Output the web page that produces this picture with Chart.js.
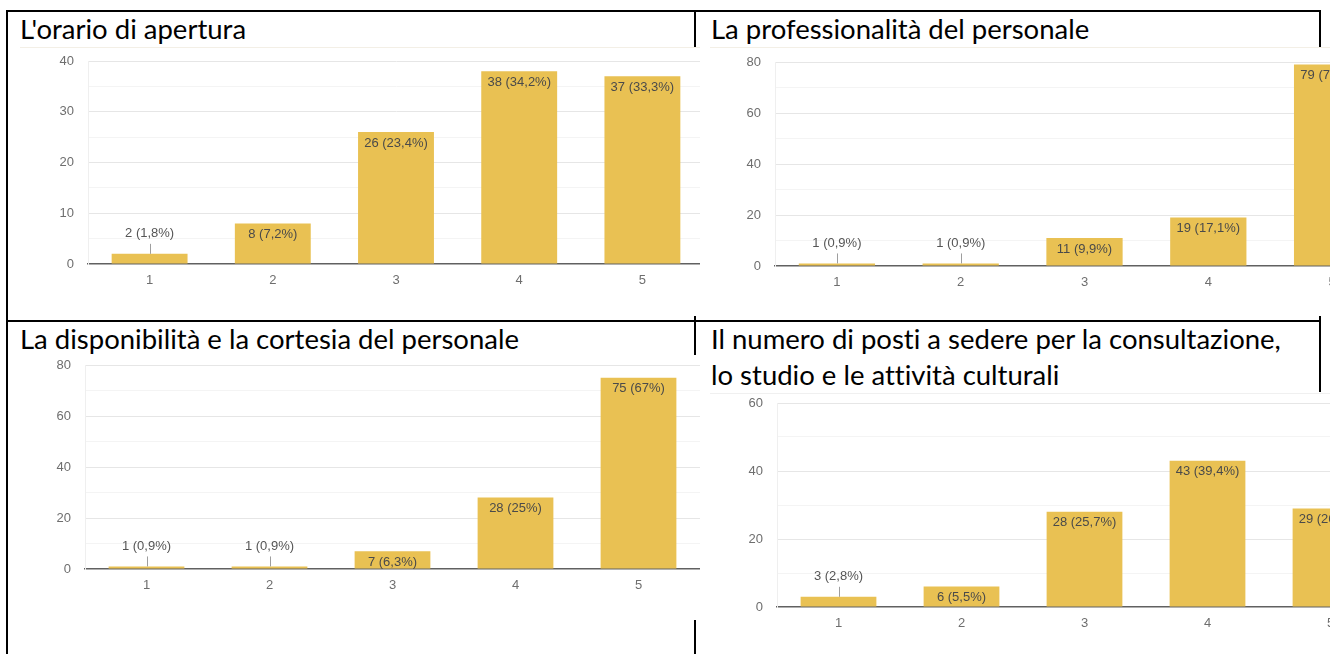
<!DOCTYPE html>
<html>
<head>
<meta charset="utf-8">
<script src="https://cdn.jsdelivr.net/npm/chart.js@4"></script>
<style>
  html, body { margin: 0; padding: 0; background: #fff; }
  body { position: relative; width: 1330px; height: 654px; overflow: hidden; }
  .line { position: absolute; background: #000; }
  .title { position: absolute; font-family: Lato, sans-serif; font-size: 27.5px; line-height: 36px; color: #000; white-space: nowrap; font-variant-ligatures: none; }
  .box { position: absolute; background: #fff; overflow: hidden; }
  .box .inner { position: absolute; left: 0; top: 0; }
</style>
</head>
<body>

<!-- bordi della tabella -->
<div class="line" style="left:6px;top:10px;width:1315px;height:2px"></div>
<div class="line" style="left:6px;top:320px;width:1315px;height:2px"></div>
<div class="line" style="left:6px;top:10px;width:2px;height:644px"></div>
<div class="line" style="left:694px;top:10px;width:2px;height:644px"></div>
<div class="line" style="left:1319px;top:10px;width:2px;height:382px"></div>

<!-- titoli -->
<div class="title" id="t0" style="left:20px;top:11px"></div>
<div class="title" id="t1" style="left:711px;top:11px"></div>
<div class="title" id="t2" style="left:20px;top:321px"></div>
<div class="title" id="t3" style="left:711px;top:321px"></div>

<!-- grafici -->
<div class="box" style="left:20px;top:47px;width:680px;height:268px;border-top:1px solid #f3efe6">
  <div class="inner" style="width:684px;height:268px"><canvas id="c0"></canvas></div>
</div>
<div class="box" style="left:710px;top:47px;width:620px;height:268px;border-top:1px solid #f3efe6">
  <div class="inner" style="width:684px;height:268px"><canvas id="c1"></canvas></div>
</div>
<div class="box" style="left:20px;top:355px;width:680px;height:265px">
  <div class="inner" style="width:680px;height:265px"><canvas id="c2"></canvas></div>
</div>
<div class="box" style="left:710px;top:393px;width:620px;height:261px;border-top:1px solid #f0f0f0">
  <div class="inner" style="width:682px;height:261px"><canvas id="c3"></canvas></div>
</div>

<script>
// punteggi (asse x, uguale per tutti i grafici)
const scores = ['1', '2', '3', '4', '5'];

const titles = [
  "L'orario di apertura",
  'La professionalità del personale',
  'La disponibilità e la cortesia del personale',
  'Il numero di posti a sedere per la consultazione,<br>lo studio e le attività culturali'
];

// risposte per punteggio
const orarioCounts = [2, 8, 26, 38, 37];
const orarioPct = ['1,8%', '7,2%', '23,4%', '34,2%', '33,3%'];

const professionalitaCounts = [1, 1, 11, 19, 79];
const professionalitaPct = ['0,9%', '0,9%', '9,9%', '17,1%', '71,2%'];

const cortesiaCounts = [1, 1, 7, 28, 75];
const cortesiaPct = ['0,9%', '0,9%', '6,3%', '25%', '67%'];

const postiCounts = [3, 6, 28, 43, 29];
const postiPct = ['2,8%', '5,5%', '25,7%', '39,4%', '26,6%'];

const BAR_COLOR = '#e9c153';
const FONT = '"Liberation Sans", Arial, sans-serif';

// etichette "n (x%)" sopra/dentro le barre, come nei grafici di Google Moduli
const valueLabels = {
  id: 'valueLabels',
  afterDatasetsDraw(chart) {
    const { ctx } = chart;
    const ds = chart.data.datasets[0];
    const meta = chart.getDatasetMeta(0);
    ctx.save();
    ctx.font = '13px ' + FONT;
    ctx.textAlign = 'center';
    ctx.textBaseline = 'middle';
    meta.data.forEach((bar, i) => {
      const text = ds.data[i] + ' (' + ds.pcts[i] + ')';
      const h = bar.base - bar.y;
      if (h >= 15) {
        ctx.fillStyle = '#4a4a4a';
        ctx.fillText(text, bar.x, bar.y + 11);
      } else {
        // barra troppo bassa: etichetta sopra con lineetta
        ctx.strokeStyle = '#9e9e9e';
        ctx.lineWidth = 1;
        ctx.beginPath();
        ctx.moveTo(Math.round(bar.x) + 0.5, bar.y);
        ctx.lineTo(Math.round(bar.x) + 0.5, bar.y - 10);
        ctx.stroke();
        ctx.fillStyle = '#555';
        ctx.fillText(text, bar.x, bar.y - 20);
      }
    });
    ctx.restore();
  }
};

function makeChart(id, counts, pcts, cfg) {
  const major = cfg.major;
  return new Chart(document.getElementById(id), {
    type: 'bar',
    data: {
      labels: scores,
      datasets: [{
        data: counts,
        pcts: pcts,
        backgroundColor: BAR_COLOR,
        borderWidth: 0,
        categoryPercentage: 1,
        barPercentage: 0.616
      }]
    },
    options: {
      responsive: true,
      maintainAspectRatio: false,
      animation: false,
      events: [],
      layout: { padding: { top: cfg.top, left: 0, right: 0, bottom: 0 } },
      plugins: { legend: { display: false }, tooltip: { enabled: false } },
      scales: {
        x: {
          grid: { display: false, drawTicks: false, tickLength: 0 },
          border: { display: true, color: '#616161', width: 1.5 },
          ticks: { color: '#6e6e6e', font: { family: FONT, size: 13 }, padding: 9, maxRotation: 0 },
          afterFit: (s) => {
            s.height = cfg.axisH;
            s.paddingLeft = 0;
            s.paddingRight = 0;
          }
        },
        y: {
          min: 0,
          max: cfg.max,
          grid: {
            drawTicks: false,
            tickLength: 0,
            color: (c) => {
              const v = c.tick.value;
              if (v === 0) return 'rgba(0,0,0,0)';
              return v % major === 0 ? '#e6e6e6' : '#f4f4f4';
            }
          },
          border: { display: true, color: '#efefef', width: 1 },
          ticks: {
            stepSize: major / 2,
            color: '#6e6e6e',
            font: { family: FONT, size: 13 },
            padding: 14,
            callback: (v) => (v % major === 0 ? v : '')
          },
          afterFit: (s) => {
            s.width = cfg.axisW;
            // niente spazio extra sopra: l'area del grafico parte da layout.padding.top
            s.paddingTop = 0;
            s.paddingBottom = 0;
          }
        }
      }
    },
    plugins: [valueLabels]
  });
}

titles.forEach((t, i) => { document.getElementById('t' + i).innerHTML = t; });

makeChart('c0', orarioCounts, orarioPct, { max: 40, major: 10, top: 13, axisW: 68, axisH: 52 });
makeChart('c1', professionalitaCounts, professionalitaPct, { max: 80, major: 20, top: 14, axisW: 65, axisH: 50 });
makeChart('c2', cortesiaCounts, cortesiaPct, { max: 80, major: 20, top: 10, axisW: 65, axisH: 51 });
makeChart('c3', postiCounts, postiPct, { max: 60, major: 20, top: 9, axisW: 67, axisH: 48 });
</script>
</body>
</html>
